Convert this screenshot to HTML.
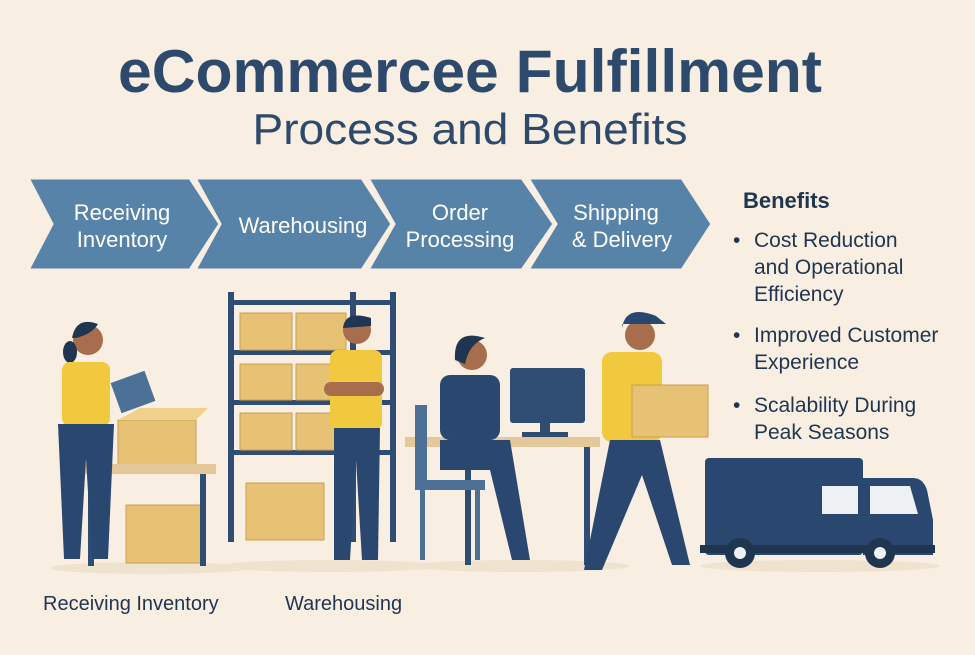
<!DOCTYPE html>
<html><head><meta charset="utf-8"><style>
body{margin:0;width:975px;height:650px;background:#f8efe2;overflow:hidden;font-family:"Liberation Sans",sans-serif}
</style></head><body>
<svg width="975" height="650" viewBox="0 0 975 650" xmlns="http://www.w3.org/2000/svg" font-family="Liberation Sans, sans-serif">
<rect width="975" height="650" fill="#f8efe2"/>
<text x="470" y="92" text-anchor="middle" font-size="60" font-weight="bold" fill="#2d4a6c" textLength="704" lengthAdjust="spacingAndGlyphs">eCommercee Fulfillment</text>
<text x="470" y="144" text-anchor="middle" font-size="44" fill="#2d4a6c" textLength="435" lengthAdjust="spacingAndGlyphs">Process and Benefits</text>
<g fill="#5783a8" stroke="#f8efe2" stroke-width="3">
<polygon points="28,178 190,178 220,224 190,270 28,270 52,224"/>
<polygon points="195,178 362,178 392,224 362,270 195,270 220,224"/>
<polygon points="368,178 522,178 554,224 522,270 368,270 394,224"/>
<polygon points="528,178 682,178 712,224 682,270 528,270 556,224"/>
</g>
<g fill="#fff" font-size="22" text-anchor="middle">
<text x="122" y="220">Receiving</text><text x="122" y="247">Inventory</text>
<text x="303" y="233">Warehousing</text>
<text x="460" y="220">Order</text><text x="460" y="247">Processing</text>
<text x="616" y="220">Shipping</text><text x="622" y="247">&amp; Delivery</text>
</g>
<g fill="#1f3550" font-size="21">
<text x="743" y="208" font-weight="bold" font-size="22">Benefits</text>
<text x="733" y="247">•</text><text x="754" y="247">Cost Reduction</text>
<text x="754" y="274">and Operational</text><text x="754" y="301">Efficiency</text>
<text x="733" y="342">•</text><text x="754" y="342">Improved Customer</text>
<text x="754" y="369">Experience</text>
<text x="733" y="412">•</text><text x="754" y="412">Scalability During</text>
<text x="754" y="439">Peak Seasons</text>
</g>
<g fill="#1f3550" font-size="20">
<text x="43" y="610">Receiving Inventory</text>
<text x="285" y="610">Warehousing</text>
</g>
<g fill="#efe2cf"><ellipse cx="150" cy="568" rx="100" ry="6"/><ellipse cx="330" cy="566" rx="110" ry="6"/><ellipse cx="520" cy="566" rx="110" ry="6"/><ellipse cx="820" cy="566" rx="120" ry="6"/></g>
<g fill="#2f4d73">
<rect x="228" y="292" width="6" height="250"/><rect x="350" y="292" width="6" height="250"/><rect x="390" y="292" width="6" height="250"/>
<rect x="228" y="300" width="168" height="5"/><rect x="228" y="350" width="168" height="5"/><rect x="228" y="400" width="168" height="5"/><rect x="228" y="450" width="168" height="5"/>
</g>
<g fill="#e8c274" stroke="#c99f52" stroke-width="1">
<rect x="240" y="313" width="52" height="37"/><rect x="296" y="313" width="50" height="37"/>
<rect x="240" y="364" width="52" height="36"/><rect x="296" y="364" width="50" height="36"/>
<rect x="240" y="413" width="52" height="37"/><rect x="296" y="413" width="50" height="37"/>
<rect x="246" y="483" width="78" height="57"/>
<rect x="118" y="420" width="78" height="45"/><rect x="126" y="505" width="76" height="58"/>
<rect x="632" y="385" width="76" height="52"/>
</g>
<polygon points="118,420 140,408 208,408 196,420" fill="#f0d08a"/>
<rect x="76" y="464" width="140" height="10" fill="#e4c89a"/>
<rect x="88" y="474" width="6" height="92" fill="#2f4d73"/><rect x="200" y="474" width="6" height="92" fill="#2f4d73"/>
<g>
<circle cx="88" cy="340" r="15" fill="#a86d4c"/><path d="M72 338 q4 -22 26 -14 q-6 10 -22 14z" fill="#1f3550"/><ellipse cx="70" cy="352" rx="7" ry="11" fill="#1f3550"/>
<rect x="62" y="362" width="48" height="64" rx="8" fill="#f0c93e"/>
<path d="M58 424 h56 l-6 135 h-16 l-6 -100 l-6 100 h-16z" fill="#2a4770"/>
<rect x="115" y="376" width="36" height="32" fill="#4d7097" transform="rotate(-20 133 392)"/>
</g>
<g>
<circle cx="357" cy="330" r="14" fill="#a86d4c"/><path d="M343 328 q2 -18 28 -10 v8z" fill="#1f3550"/>
<rect x="330" y="350" width="52" height="80" rx="8" fill="#f0c93e"/>
<rect x="324" y="382" width="60" height="14" rx="7" fill="#a86d4c"/>
<path d="M334 428 h46 l-2 132 h-16 l-6 -100 l-6 100 h-16z" fill="#2a4770"/>
</g>
<rect x="405" y="437" width="195" height="10" fill="#e4c89a"/>
<rect x="465" y="447" width="6" height="118" fill="#2f4d73"/><rect x="584" y="447" width="6" height="118" fill="#2f4d73"/>
<rect x="510" y="368" width="75" height="55" rx="3" fill="#2f4d73"/><rect x="540" y="423" width="10" height="12" fill="#2f4d73"/><rect x="522" y="432" width="46" height="5" fill="#2f4d73"/>
<g>
<rect x="415" y="405" width="12" height="80" fill="#4d7097"/><rect x="415" y="480" width="70" height="10" fill="#4d7097"/>
<rect x="420" y="490" width="5" height="70" fill="#4d7097"/><rect x="475" y="490" width="5" height="70" fill="#4d7097"/>
<circle cx="472" cy="355" r="15" fill="#a86d4c"/><path d="M455 360 q-2 -32 30 -22 q-16 6 -20 26z" fill="#1f3550"/>
<rect x="440" y="375" width="60" height="65" rx="10" fill="#2a4770"/>
<path d="M440 440 h70 l20 120 h-18 l-22 -90 h-50z" fill="#2a4770"/>
</g>
<g>
<circle cx="640" cy="335" r="15" fill="#a86d4c"/><path d="M622 328 q4 -24 34 -12 l10 8 h-44z" fill="#2a4770"/>
<rect x="602" y="352" width="60" height="90" rx="10" fill="#f0c93e"/>
<rect x="632" y="385" width="76" height="52" fill="#e8c274" stroke="#c99f52"/>
<path d="M610 440 h50 l30 125 h-18 l-30 -90 l-40 95 h-18z" fill="#2a4770"/>
</g>
<g>
<rect x="705" y="458" width="158" height="97" rx="4" fill="#2a4770"/>
<path d="M863 478 h50 q10 0 14 12 l6 30 v35 h-70z" fill="#2a4770"/>
<path d="M870 486 h40 l8 28 h-48z" fill="#eef1f4"/>
<rect x="822" y="486" width="36" height="28" fill="#eef1f4"/>
<rect x="700" y="545" width="235" height="8" fill="#1f3550"/>
<circle cx="740" cy="553" r="15" fill="#1f3550"/><circle cx="740" cy="553" r="6" fill="#eef1f4"/>
<circle cx="880" cy="553" r="15" fill="#1f3550"/><circle cx="880" cy="553" r="6" fill="#eef1f4"/>
</g>
</svg>
</body></html>
